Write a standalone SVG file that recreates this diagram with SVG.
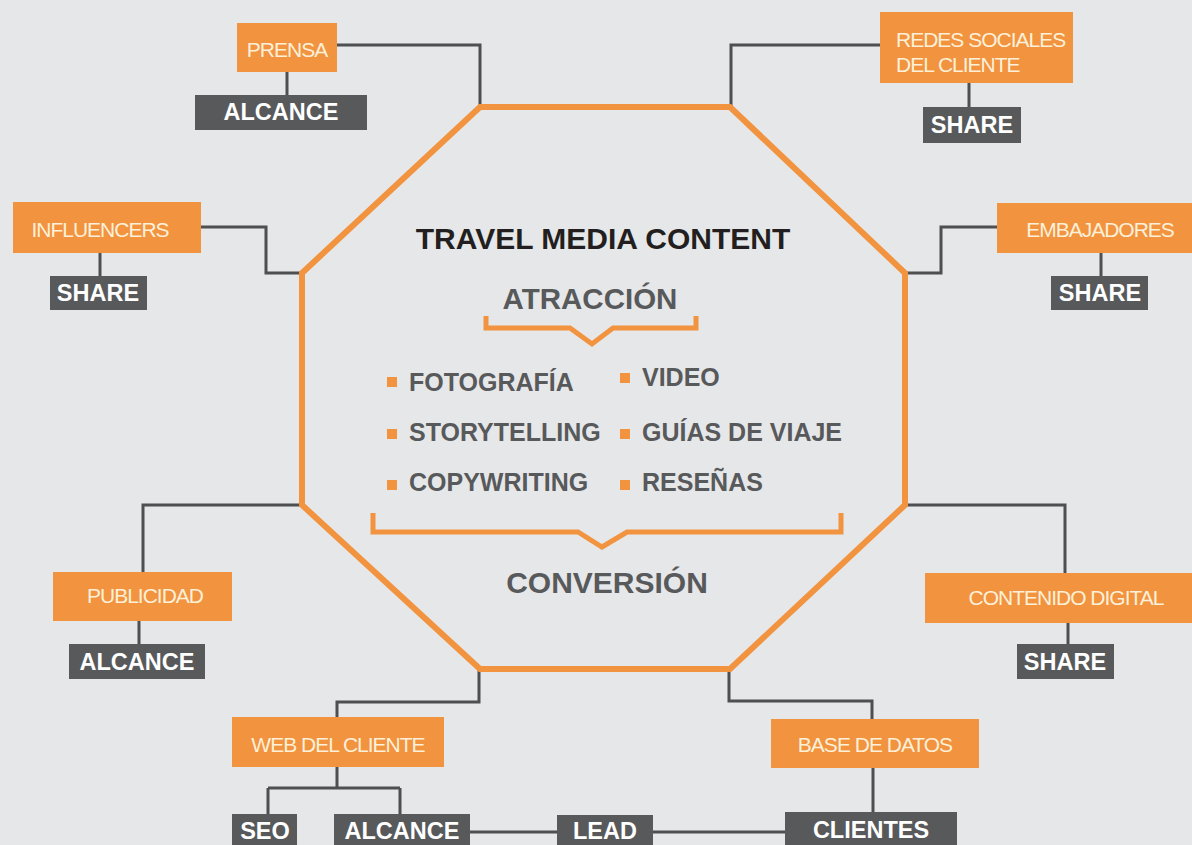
<svg xmlns="http://www.w3.org/2000/svg" width="1192" height="845" viewBox="0 0 1192 845">
<style>
.bg{fill:#e6e7e8}
.ob{fill:#f1933f}
.db{fill:#58595b}
.ot{font-family:"Liberation Sans",Arial,sans-serif;font-size:21px;fill:#fdf0d8;letter-spacing:-1px}
.dt{font-family:"Liberation Sans",Arial,sans-serif;font-size:23.5px;font-weight:bold;fill:#ffffff;text-anchor:middle}
.con{fill:none;stroke:#4e4f51;stroke-width:3}
.oct{fill:none;stroke:#f1933f;stroke-width:6;stroke-linejoin:miter}
.br{fill:none;stroke:#f1933f;stroke-width:5}
.tt{font-family:"Liberation Sans",Arial,sans-serif;font-weight:bold;fill:#231f20;text-anchor:middle}
.st{font-family:"Liberation Sans",Arial,sans-serif;font-weight:bold;fill:#58595b}
.bu{fill:#f1933f}
</style>
<rect class="bg" x="0" y="0" width="1192" height="845"/>
<g id="connectors">
<path class="con" d="M337,45 H480 V107"/>
<path class="con" d="M880,45 H731 V107"/>
<path class="con" d="M287,72 V95"/>
<path class="con" d="M969,83 V107"/>
<path class="con" d="M201,227 H266 V273 H302"/>
<path class="con" d="M100,253 V276"/>
<path class="con" d="M905,273 H941 V227 H997"/>
<path class="con" d="M1101,253 V276"/>
<path class="con" d="M302,505 H143 V572"/>
<path class="con" d="M139,621 V644"/>
<path class="con" d="M905,505 H1065 V573"/>
<path class="con" d="M1068,623 V644"/>
<path class="con" d="M479,669 V702 H337 V717"/>
<path class="con" d="M337,767 V788 M268,788 H400 M268,788 V814 M400,788 V814"/>
<path class="con" d="M729,669 V701 H872 V719"/>
<path class="con" d="M873,768 V812"/>
<path class="con" d="M470,832 H557"/>
<path class="con" d="M653,832 H785"/>
</g>
<g id="center">
<polygon class="oct" points="480,107 730,107 905,273 905,505 730,669 480,669 302,505 302,273"/>
<text class="tt" x="603" y="249" font-size="30">TRAVEL MEDIA CONTENT</text>
<text class="st" x="590" y="309" font-size="29.5" text-anchor="middle">ATRACCIÓN</text>
<path class="br" d="M486,316 V328 H570 L592,344 L613,328 H696 V316"/>
<rect class="bu" x="387" y="377" width="10" height="10"/>
<text class="st" x="409" y="391" font-size="25">FOTOGRAFÍA</text>
<rect class="bu" x="620" y="373" width="10" height="10"/>
<text class="st" x="642" y="386" font-size="25">VIDEO</text>
<rect class="bu" x="387" y="429" width="10" height="10"/>
<text class="st" x="409" y="441" font-size="25">STORYTELLING</text>
<rect class="bu" x="620" y="429" width="10" height="10"/>
<text class="st" x="642" y="441" font-size="25">GUÍAS DE VIAJE</text>
<rect class="bu" x="387" y="480" width="10" height="10"/>
<text class="st" x="409" y="491" font-size="25">COPYWRITING</text>
<rect class="bu" x="620" y="480" width="10" height="10"/>
<text class="st" x="642" y="491" font-size="25">RESEÑAS</text>
<path class="br" d="M373,513 V532 H578 L602,547 L627,532 H841 V513"/>
<text class="st" x="607" y="593" font-size="30" text-anchor="middle">CONVERSIÓN</text>
</g>
<g id="prensa">
<rect class="ob" x="237" y="23" width="100" height="49"/>
<text class="ot" x="287" y="57" text-anchor="middle">PRENSA</text>
</g>
<g id="prensa-alcance">
<rect class="db" x="195" y="95" width="172" height="35"/>
<text class="dt" x="281" y="120">ALCANCE</text>
</g>
<g id="redes">
<rect class="ob" x="880" y="12" width="193" height="71"/>
<text class="ot" x="896" y="47">REDES SOCIALES</text>
<text class="ot" x="896" y="72">DEL CLIENTE</text>
</g>
<g id="redes-share">
<rect class="db" x="923" y="107" width="98" height="36"/>
<text class="dt" x="972" y="133">SHARE</text>
</g>
<g id="influencers">
<rect class="ob" x="13" y="202" width="188" height="51"/>
<text class="ot" x="100" y="237" text-anchor="middle">INFLUENCERS</text>
</g>
<g id="influencers-share">
<rect class="db" x="50" y="276" width="97" height="34"/>
<text class="dt" x="98" y="301">SHARE</text>
</g>
<g id="embajadores">
<rect class="ob" x="997" y="203" width="195" height="50"/>
<text class="ot" x="1100" y="237" text-anchor="middle">EMBAJADORES</text>
</g>
<g id="embajadores-share">
<rect class="db" x="1051" y="276" width="97" height="34"/>
<text class="dt" x="1100" y="301">SHARE</text>
</g>
<g id="publicidad">
<rect class="ob" x="53" y="572" width="179" height="49"/>
<text class="ot" x="145" y="603" text-anchor="middle">PUBLICIDAD</text>
</g>
<g id="publicidad-alcance">
<rect class="db" x="69" y="644" width="136" height="35"/>
<text class="dt" x="137" y="670">ALCANCE</text>
</g>
<g id="contenido">
<rect class="ob" x="925" y="573" width="267" height="50"/>
<text class="ot" x="1066" y="605" text-anchor="middle">CONTENIDO DIGITAL</text>
</g>
<g id="contenido-share">
<rect class="db" x="1017" y="644" width="97" height="35"/>
<text class="dt" x="1065" y="670">SHARE</text>
</g>
<g id="web">
<rect class="ob" x="232" y="717" width="212" height="50"/>
<text class="ot" x="338" y="752" text-anchor="middle">WEB DEL CLIENTE</text>
</g>
<g id="seo">
<rect class="db" x="232" y="814" width="65" height="31"/>
<text class="dt" x="265" y="839">SEO</text>
</g>
<g id="web-alcance">
<rect class="db" x="334" y="814" width="136" height="31"/>
<text class="dt" x="402" y="839">ALCANCE</text>
</g>
<g id="lead">
<rect class="db" x="557" y="815" width="96" height="30"/>
<text class="dt" x="605" y="839">LEAD</text>
</g>
<g id="base">
<rect class="ob" x="771" y="719" width="208" height="49"/>
<text class="ot" x="875" y="752" text-anchor="middle">BASE DE DATOS</text>
</g>
<g id="clientes">
<rect class="db" x="785" y="812" width="172" height="33"/>
<text class="dt" x="871" y="838">CLIENTES</text>
</g>
</svg>
